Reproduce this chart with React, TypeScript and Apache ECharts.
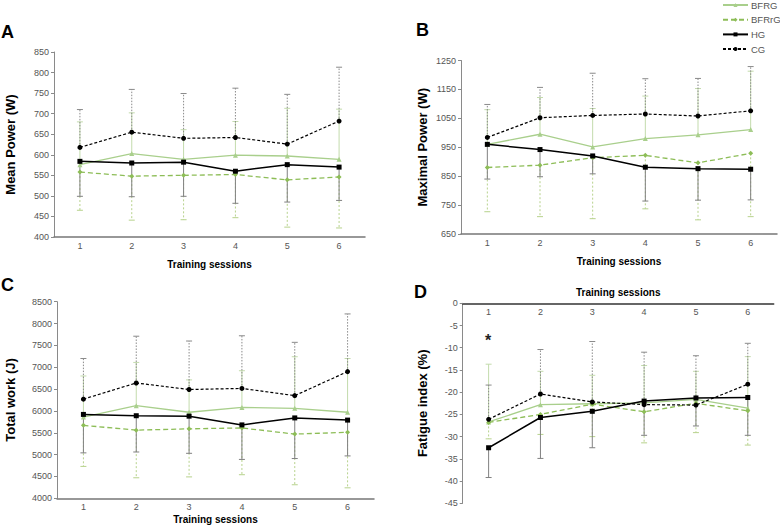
import React, { useEffect, useRef } from "react";
import * as echarts from "echarts";

const sessions = ["1", "2", "3", "4", "5", "6"];
const groupNames = ["BFRG", "BFRrG", "HG", "CG"];

// Panel A – Mean Power (W)
const bfrgA = [576, 603, 589, 599, 597, 589];
const bfrgAUp = [680, 702, 661, 681, 713, 711];
const bfrrgA = [558, 548, 550, 552, 539, 546];
const bfrrgADown = [465, 441, 442, 447, 424, 422];
const hgA = [584, 580, 582, 560, 576, 570];
const hgADown = [499, 498, 499, 482, 485, 489];
const cgA = [618, 655, 640, 642, 626, 682];
const cgAUp = [710, 759, 749, 762, 747, 813];

// Panel B – Maximal Power (W)
const bfrgB = [960, 995, 951, 980, 993, 1011];
const bfrgBUp = [1080, 1122, 1084, 1127, 1153, 1213];
const bfrrgB = [880, 888, 914, 922, 896, 929];
const bfrrgBDown = [727, 710, 703, 737, 699, 710];
const hgB = [960, 942, 920, 881, 876, 874];
const hgBDown = [840, 848, 858, 764, 767, 768];
const cgB = [984, 1052, 1060, 1065, 1058, 1076];
const cgBUp = [1098, 1157, 1206, 1187, 1188, 1229];

// Panel C – Total work (J)
const bfrgC = [5860, 6120, 5970, 6080, 6060, 5970];
const bfrgCUp = [6800, 7110, 6710, 6920, 7240, 7200];
const bfrrgC = [5670, 5560, 5590, 5610, 5470, 5510];
const bfrrgCDown = [4730, 4470, 4490, 4540, 4310, 4240];
const hgC = [5920, 5890, 5880, 5680, 5840, 5790];
const hgCDown = [5040, 5060, 5030, 4890, 4910, 4970];
const cgC = [6270, 6640, 6490, 6515, 6350, 6900];
const cgCUp = [7200, 7710, 7600, 7720, 7570, 8220];

// Panel D – Fatigue index (%)
const bfrgD = [-26.7, -22.8, -22.6, -22.4, -21.6, -23.6];
const bfrgDUp = [-13.7, -15.3, -16.2, -14.0, -15.3, -12.0];
const bfrrgD = [-26.8, -25.0, -22.7, -24.4, -22.5, -24.2];
const bfrrgDDown = [-30.5, -29.5, -30.0, -31.4, -29.1, -31.9];
const hgD = [-32.5, -25.7, -24.3, -22.0, -21.3, -21.2];
const hgDDown = [-39.2, -34.9, -32.5, -29.7, -27.6, -29.7];
const cgD = [-26.1, -20.4, -22.2, -22.8, -22.9, -18.2];
const cgDUp = [-18.4, -10.4, -8.6, -11.0, -11.8, -9.0];

const yTicksB = [650, 750, 850, 950, 1050, 1150, 1250];

const FONT = "'Liberation Sans', Arial, Helvetica, sans-serif";

const styles: Record<string, any> = {
  BFRG: { color: "#a9cf8c", width: 1.3, type: "solid", symbol: "triangle", size: 5, err: "#c3dbac", errDash: null },
  BFRrG: { color: "#8dbd57", width: 1.3, type: [5, 3], symbol: "diamond", size: 5, err: "#b7d28c", errDash: [2, 2] },
  HG: { color: "#000000", width: 1.5, type: "solid", symbol: "rect", size: 5, err: "#808080", errDash: null },
  CG: { color: "#000000", width: 1.2, type: [3, 2], symbol: "circle", size: 5, err: "#8a8a8a", errDash: [1.5, 1.5] },
};

const panels = [
  { means: [bfrgA, bfrrgA, hgA, cgA], bounds: [bfrgAUp, bfrrgADown, hgADown, cgAUp] },
  { means: [bfrgB, bfrrgB, hgB, cgB], bounds: [bfrgBUp, bfrrgBDown, hgBDown, cgBUp] },
  { means: [bfrgC, bfrrgC, hgC, cgC], bounds: [bfrgCUp, bfrrgCDown, hgCDown, cgCUp] },
  { means: [bfrgD, bfrrgD, hgD, cgD], bounds: [bfrgDUp, bfrrgDDown, hgDDown, cgDUp] },
];

function buildOption() {
  const grids = [
    { left: 54, top: 52, width: 311, height: 185 },
    { left: 461, top: 60.5, width: 316, height: 173.5 },
    { left: 57, top: 301.7, width: 317, height: 196.6 },
    { left: 462.7, top: 303.3, width: 311, height: 200 },
  ];

  const plain = (v: number) => String(v);
  const axisLabelY = { color: "#555", fontSize: 9, fontFamily: FONT, margin: 5, formatter: plain };
  const yAxisBase = (idx: number, name: string, min: number, max: number, interval: number, gap: number, extra: any = {}) => ({
    type: "value",
    gridIndex: idx,
    min,
    max,
    interval,
    name,
    nameLocation: "middle",
    nameGap: gap,
    nameTextStyle: { color: "#000", fontSize: 13, fontWeight: "bold", fontFamily: FONT },
    axisLine: { show: true, lineStyle: { color: "#8a8a8a", width: 1 } },
    axisTick: { show: true, length: 3, lineStyle: { color: "#8a8a8a" } },
    splitLine: { show: false },
    axisLabel: { ...axisLabelY },
    ...extra,
  });

  const xAxisBase = (idx: number, gap: number, top = false) => ({
    type: "category",
    gridIndex: idx,
    data: sessions,
    boundaryGap: true,
    position: top ? "top" : "bottom",
    name: "Training sessions",
    nameLocation: "middle",
    nameGap: gap,
    nameTextStyle: { color: "#000", fontSize: 10, fontWeight: "bold", fontFamily: FONT },
    axisLine: { show: true, onZero: false, lineStyle: { color: top ? "#333" : "#777", width: 1.5 } },
    axisTick: { show: false },
    axisLabel: { color: "#555", fontSize: 9, fontFamily: FONT, margin: 4, inside: top },
    splitLine: { show: false },
  });

  const xAxes = [xAxisBase(0, 22), xAxisBase(1, 22), xAxisBase(2, 16), xAxisBase(3, 6, true)];
  const yAxes = [
    yAxisBase(0, "Mean Power (W)", 400, 850, 50, 37),
    yAxisBase(1, "Maximal Power (W)", 650, 1250, 50, 32, {
      axisLabel: { ...axisLabelY, customValues: yTicksB },
      axisTick: { show: true, length: 3, lineStyle: { color: "#8a8a8a" }, customValues: yTicksB },
    }),
    yAxisBase(2, "Total work (J)", 4000, 8500, 500, 40),
    yAxisBase(3, "Fatigue index (%)", -45, 0, 5, 34),
  ];

  const series: any[] = [];
  panels.forEach((p, pi) => {
    groupNames.forEach((g, gi) => {
      const st = styles[g];
      series.push({
        name: `err_${pi}_${g}`,
        type: "custom",
        xAxisIndex: pi,
        yAxisIndex: pi,
        z: 1,
        silent: true,
        encode: { x: 0, y: [1, 2] },
        data: sessions.map((_, i) => [i, p.means[gi][i], p.bounds[gi][i]]),
        renderItem: (params: any, api: any) => {
          const x = api.value(0);
          const m = api.value(1);
          const b = api.value(2);
          const p0 = api.coord([x, m]);
          const p1 = api.coord([x, b]);
          const cap = 3;
          return {
            type: "group",
            children: [
              {
                type: "line",
                shape: { x1: p0[0], y1: p0[1], x2: p1[0], y2: p1[1] },
                style: { stroke: st.err, lineWidth: 1, lineDash: st.errDash || undefined },
              },
              {
                type: "line",
                shape: { x1: p1[0] - cap, y1: p1[1], x2: p1[0] + cap, y2: p1[1] },
                style: { stroke: st.err, lineWidth: 1 },
              },
            ],
          };
        },
      });
    });
  });
  panels.forEach((p, pi) => {
    groupNames.forEach((g, gi) => {
      const st = styles[g];
      series.push({
        name: g,
        type: "line",
        xAxisIndex: pi,
        yAxisIndex: pi,
        z: 3,
        data: p.means[gi],
        symbol: st.symbol,
        symbolSize: st.size,
        showSymbol: true,
        lineStyle: { color: st.color, width: st.width, type: st.type },
        itemStyle: { color: st.color, borderWidth: 0 },
        emphasis: { disabled: true },
      });
    });
  });

  const letter = (t: string, x: number, y: number) => ({
    type: "text",
    left: x,
    top: y,
    style: { text: t, fontSize: 18, fontWeight: "bold", fill: "#000", fontFamily: FONT },
  });

  return {
    animation: false,
    textStyle: { fontFamily: FONT },
    grid: grids,
    xAxis: xAxes,
    yAxis: yAxes,
    legend: {
      data: groupNames,
      orient: "vertical",
      left: 722,
      top: 0,
      padding: 0,
      itemWidth: 25,
      itemHeight: 5,
      itemGap: 4.7,
      itemStyle: { borderWidth: 0 },
      textStyle: { color: "#555", fontSize: 9.5, lineHeight: 10, fontFamily: FONT, padding: [0, 0, 0, -2] },
    },
    graphic: [
      letter("A", 1, 23),
      letter("B", 416, 21),
      letter("C", 1, 276),
      letter("D", 414, 283),
      {
        type: "text",
        left: 485,
        top: 332,
        style: { text: "*", fontSize: 16, fontWeight: "bold", fill: "#222", fontFamily: FONT },
      },
    ],
    series,
  };
}

export default function App() {
  const ref = useRef<HTMLDivElement>(null);
  useEffect(() => {
    if (!ref.current) return;
    const chart = echarts.init(ref.current, null, { renderer: "svg" });
    chart.setOption(buildOption() as any);
    return () => chart.dispose();
  }, []);
  return (
    <div
      ref={ref}
      style={{ position: "fixed", left: 0, top: 0, width: 780, height: 526, background: "#fff" }}
    />
  );
}
